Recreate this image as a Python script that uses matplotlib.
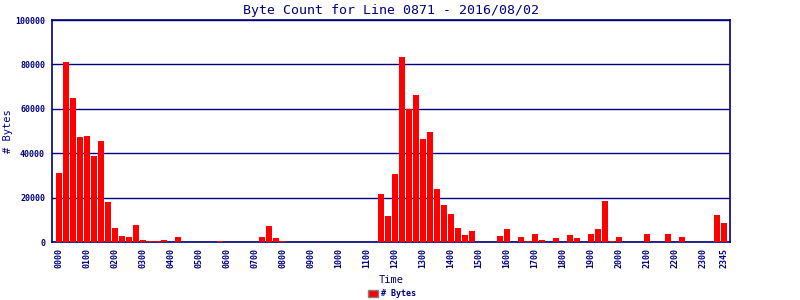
"""
    Byte count per 15 minute slot, line 0871, 2016/08/02
"""
import numpy as np
from matplotlib import pyplot as plt

# 96 slots of 15 minutes
slots = ["%02d%02d" % (h, m) for h in range(24) for m in (0, 15, 30, 45)]
byte_count = [
    31000, 81000, 64800, 47300, 47800, 38800, 45500, 18200,
    6500, 2900, 2400, 7800, 1100, 600, 600, 1100,
    0, 2400, 0, 0, 0, 0, 0, 600,
    0, 0, 0, 0, 0, 2400, 7300, 1900,
    600, 0, 0, 0, 0, 0, 0, 0,
    0, 0, 0, 0, 0, 0, 21700, 11800,
    30700, 83300, 59900, 66200, 46400, 49500, 24000, 16800,
    12700, 6500, 3300, 5000, 0, 0, 0, 2900,
    6100, 0, 2400, 600, 3700, 1100, 0, 1900,
    0, 3300, 1900, 0, 3700, 6100, 18500, 600,
    2400, 0, 0, 0, 3700, 0, 0, 3700,
    0, 2400, 0, 0, 0, 0, 12300, 8700,
]
y_ticks = [0, 20000, 40000, 60000, 80000, 100000]

navy = "#000080"
mono = "DejaVu Sans Mono"

fig = plt.figure(figsize=(8, 3), dpi=100)
ax = fig.add_axes([0.065, 0.1923, 0.8475, 0.741])

x = np.arange(len(slots))
ax.bar(x, byte_count, width=6 / 7, color="#ff0000", linewidth=0, label="# Bytes", zorder=3)

ax.set_xlim(-1.0, 95.857)
ax.set_ylim(0, 100000)

tick_idx = list(range(0, 96, 4)) + [95]
ax.set_xticks(tick_idx)
ax.set_xticklabels([slots[i] for i in tick_idx], rotation=90, fontsize=6,
                   fontweight="bold", family=mono, color=navy)
ax.set_yticks(y_ticks)
ax.set_yticklabels([str(v) for v in y_ticks], fontsize=6, fontweight="bold",
                   family=mono, color=navy)
ax.tick_params(axis="x", length=0, pad=4)
ax.tick_params(axis="y", length=0, pad=5)

ax.grid(axis="y", color=navy, linewidth=1.0, zorder=1)
for s in ax.spines.values():
    s.set_color(navy)
    s.set_linewidth(1.2)

ax.set_title("Byte Count for Line 0871 - 2016/08/02", family=mono, fontsize=9.5,
             color=navy, pad=4)
ax.set_xlabel("Time", family=mono, fontsize=7.5, color=navy, labelpad=5)
ax.set_ylabel("# Bytes", family=mono, fontsize=7.5, color=navy)
ax.yaxis.set_label_coords(-0.058, 0.5)

leg = fig.legend(loc="lower center", bbox_to_anchor=(0.49, -0.02), frameon=False,
                 handlelength=1.2, handleheight=0.9, handletextpad=0.4,
                 prop={"family": mono, "size": 6, "weight": "bold"})
for t in leg.get_texts():
    t.set_color(navy)
for p in leg.get_patches():
    p.set_edgecolor("#808080")
    p.set_linewidth(1)

fig.savefig("out.png", dpi=100)
